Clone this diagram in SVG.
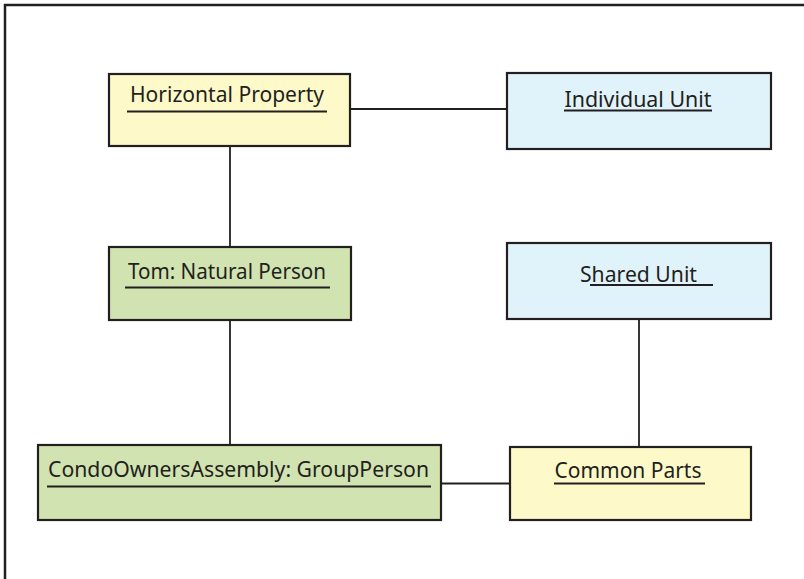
<svg xmlns="http://www.w3.org/2000/svg" width="804" height="579" viewBox="0 0 804 579">
<style>
  .box { stroke: #231F20; stroke-width: 2.2; }
  .yellow { fill: #FEF9C8; }
  .blue { fill: #E1F3FA; }
  .green { fill: #D1E3B0; }
  .lbl { font-family: "Noto Sans", "Open Sans", sans-serif; font-size: 21px; fill: #231F20; text-anchor: middle; }
  .ul { stroke: #231F20; stroke-width: 1.8; }
  .conn { stroke: #231F20; stroke-width: 1.8; fill: none; }
  .frame { fill: #ffffff; stroke: #231F20; stroke-width: 2.5; }
</style>
<rect class="frame" x="5" y="5" width="820" height="600"/>
<g id="connectors">
  <line class="conn" x1="350" y1="109" x2="507" y2="109"/>
  <line class="conn" x1="230" y1="146" x2="230" y2="247"/>
  <line class="conn" x1="230" y1="320" x2="230" y2="445"/>
  <line class="conn" x1="639" y1="319" x2="639" y2="447"/>
  <line class="conn" x1="441" y1="483.5" x2="510" y2="483.5"/>
</g>
<g id="horizontal-property">
  <rect class="box yellow" x="109" y="74" width="241" height="72"/>
  <text class="lbl" x="227" y="102" textLength="194" lengthAdjust="spacingAndGlyphs">Horizontal Property</text>
  <line class="ul" x1="127" y1="111.5" x2="327" y2="111.5"/>
</g>
<g id="individual-unit">
  <rect class="box blue" x="507" y="73" width="264" height="76"/>
  <text class="lbl" x="638" y="107" textLength="147" lengthAdjust="spacingAndGlyphs">Individual Unit</text>
  <line class="ul" x1="564" y1="110.5" x2="712" y2="110.5"/>
</g>
<g id="tom">
  <rect class="box green" x="109" y="247" width="242" height="73"/>
  <text class="lbl" x="227" y="279" textLength="198" lengthAdjust="spacingAndGlyphs">Tom: Natural Person</text>
  <line class="ul" x1="125" y1="287.5" x2="330" y2="287.5"/>
</g>
<g id="shared-unit">
  <rect class="box blue" x="507" y="243" width="264" height="76"/>
  <text class="lbl" x="638.5" y="281.5" textLength="117" lengthAdjust="spacingAndGlyphs">Shared Unit</text>
  <line class="ul" x1="590" y1="285" x2="713" y2="285"/>
</g>
<g id="condo-owners-assembly">
  <rect class="box green" x="38" y="445" width="403" height="75"/>
  <text class="lbl" x="238.5" y="476.5" textLength="381" lengthAdjust="spacingAndGlyphs">CondoOwnersAssembly: GroupPerson</text>
  <line class="ul" x1="47" y1="486.5" x2="431" y2="486.5"/>
</g>
<g id="common-parts">
  <rect class="box yellow" x="510" y="447" width="241" height="73"/>
  <text class="lbl" x="628" y="477.5" textLength="147" lengthAdjust="spacingAndGlyphs">Common Parts</text>
  <line class="ul" x1="554" y1="483.5" x2="705" y2="483.5"/>
</g>
</svg>
